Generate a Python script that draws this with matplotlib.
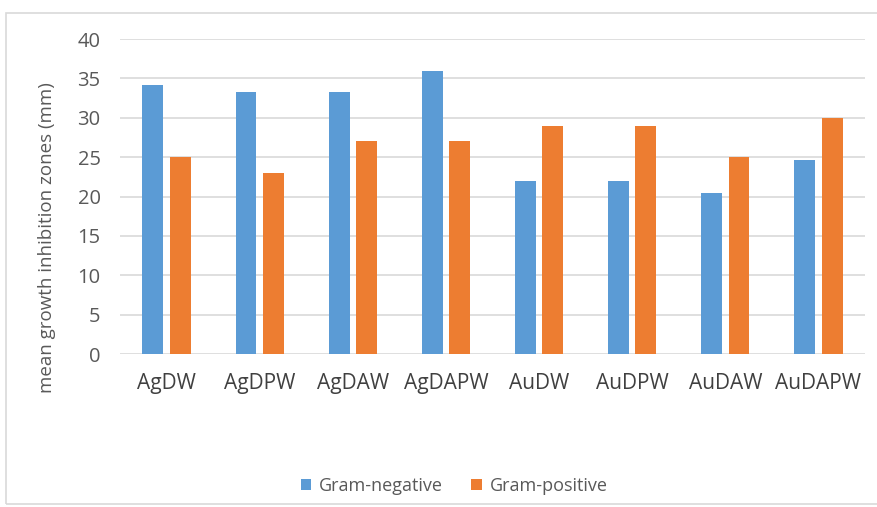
import matplotlib
matplotlib.use('Agg')
import matplotlib.pyplot as plt
import numpy as np
from matplotlib.patches import Rectangle

plt.rcParams['font.family'] = ['Open Sans', 'DejaVu Sans']

samples = ['AgDW', 'AgDPW', 'AgDAW', 'AgDAPW', 'AuDW', 'AuDPW', 'AuDAW', 'AuDAPW']
gram_negative = [34.2, 33.3, 33.3, 36.0, 22.0, 22.0, 20.4, 24.6]
gram_positive = [25.0, 23.0, 27.0, 27.0, 29.0, 29.0, 25.0, 30.0]

fig = plt.figure(figsize=(8.78, 5.07), dpi=100)
ax = fig.add_axes([120 / 878, 1 - 354 / 507, 745 / 878, 315 / 507])

x = np.arange(len(samples))
w = 0.225
ax.bar(x - 0.147, gram_negative, w, color='#5B9BD5', label='Gram-negative', zorder=3)
ax.bar(x + 0.147, gram_positive, w, color='#ED7D31', label='Gram-positive', zorder=3)

ax.set_xlim(-0.5, len(samples) - 0.5)
ax.set_ylim(0, 40)
ax.set_yticks(range(0, 41, 5))
ax.set_xticks(x)
ax.set_xticklabels(samples, fontsize=15, color='#404040')
ax.tick_params(axis='y', labelsize=14.5, colors='#595959', length=0, pad=14)
ax.tick_params(axis='x', length=0, pad=14)
ax.grid(axis='y', color='#D9D9D9', lw=1.2, zorder=0)
for s in ax.spines.values():
    s.set_visible(False)

fig.text(47 / 878, 1 - 238 / 507, 'mean growth inhibition zones (mm)', rotation=90,
         ha='center', va='center', fontsize=13.5, color='#595959')

fig.legend(loc='center', bbox_to_anchor=(454 / 878, 1 - 486 / 507), ncol=2, frameon=False,
           fontsize=13, labelcolor='#595959', handlelength=0.6, handleheight=0.6,
           handletextpad=0.4, columnspacing=1.6)

# chart border
fig.patches.append(Rectangle((6 / 878, 1 - 504 / 507), 880 / 878, 491 / 507,
                             transform=fig.transFigure, fill=False,
                             edgecolor='#D9D9D9', lw=1.2))

fig.savefig('out.png', dpi=100, facecolor='white')
